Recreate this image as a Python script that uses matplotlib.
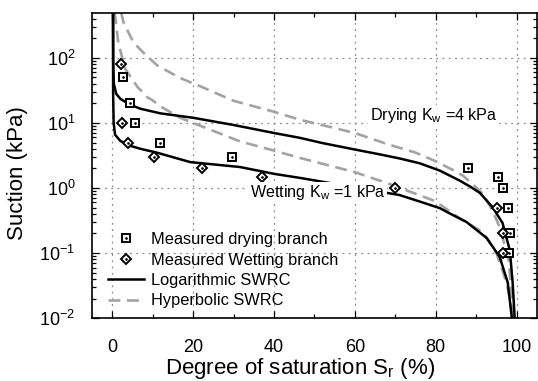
import matplotlib
matplotlib.use("Agg")
import matplotlib.pyplot as plt
from matplotlib.ticker import MultipleLocator, LogLocator, NullFormatter

plt.rcParams['font.family'] = ['Liberation Sans', 'DejaVu Sans']
plt.rcParams['mathtext.fontset'] = 'custom'
plt.rcParams['mathtext.rm'] = 'Liberation Sans'
plt.rcParams['mathtext.it'] = 'Liberation Sans:italic'
plt.rcParams['mathtext.default'] = 'regular'

# measured points
dry_S = [2.7, 4.3, 5.7, 11.7, 29.5, 88, 95.3, 96.5, 97.8, 98.4, 98.0]
dry_psi = [50, 20, 10, 5, 3, 2, 1.5, 1.0, 0.5, 0.2, 0.1]
wet_S = [2.2, 2.5, 3.9, 10.4, 22.2, 37, 70, 95.2, 96.5, 96.7]
wet_psi = [80, 10, 5, 3, 2, 1.5, 1.0, 0.5, 0.2, 0.1]

# logarithmic SWRC
logdry_S = [0.2, 0.25, 0.4, 1.0, 2.0, 4.4, 7, 12, 20, 30, 40, 46.4, 52, 60, 66, 71,
            76, 81, 85.9, 88.5, 90.9, 94, 96.5, 98.3, 99, 99.5]
logdry_psi = [500, 80, 40, 28, 23.5, 19, 16.5, 14, 12, 9.3, 7.0, 5.9, 4.9, 3.9, 3.3, 2.85,
              2.4, 1.85, 1.3, 1.05, 0.84, 0.51, 0.29, 0.11, 0.035, 0.01]
logwet_S = [0.2, 0.22, 0.35, 0.7, 2.0, 4.2, 7, 11, 19.3, 31.6, 40, 46.4, 59, 71, 76,
            81, 84, 87.6, 92.6, 95.8, 97.8, 98.8]
logwet_psi = [500, 30, 10, 6.6, 5.3, 4.5, 4.0, 3.5, 2.5, 2.1, 1.65, 1.43, 1.05, 0.78, 0.62,
              0.49, 0.39, 0.30, 0.17, 0.087, 0.035, 0.01]

# hyperbolic SWRC
hypdry_S = [2.2, 2.8, 5.2, 7.7, 11.2, 16.8, 22.5, 29.9, 39.7, 46.4, 60, 68.6, 75, 79.8,
            84.2, 86.7, 89.1, 91.6, 94, 95.8, 98, 99.2]
hypdry_psi = [500, 350, 175, 120, 76, 49, 35, 22, 15, 11.2, 7.0, 4.6, 3.5, 2.6,
              1.9, 1.55, 1.15, 0.82, 0.45, 0.25, 0.08, 0.01]
hypwet_S = [0.6, 0.8, 1.5, 3.2, 6.2, 8.6, 10.1, 11.9, 16.8, 20, 31.6, 39.7, 46.4, 60,
            68.6, 79.8, 86, 91.6, 95, 97.5, 99]
hypwet_psi = [500, 400, 170, 68, 36, 25, 22, 18, 12, 10, 5.2, 3.8, 2.9, 1.75,
              1.15, 0.63, 0.34, 0.21, 0.1, 0.035, 0.012]

fig = plt.figure(figsize=(5.38, 3.81), dpi=100)
ax = fig.add_axes([0.171, 0.165, 0.827, 0.801])

dash_col = '#a3a3a3'
dash_pat = (4.5, 2.5)
ax.plot(hypdry_S, hypdry_psi, color=dash_col, lw=1.9, dashes=dash_pat, zorder=2)
ax.plot(hypwet_S, hypwet_psi, color=dash_col, lw=1.9, dashes=dash_pat, zorder=2)
ax.plot(logdry_S, logdry_psi, color='black', lw=1.8, zorder=3)
ax.plot(logwet_S, logwet_psi, color='black', lw=1.8, zorder=3)

ax.plot(dry_S, dry_psi, ls='none', marker='s', ms=5.3, mew=1.4, mec='black', mfc='white', zorder=4)
ax.plot(dry_S, dry_psi, ls='none', marker='.', ms=1.8, color='black', zorder=5)
ax.plot(wet_S, wet_psi, ls='none', marker='D', ms=4.8, mew=1.4, mec='black', mfc='white', zorder=4)
ax.plot(wet_S, wet_psi, ls='none', marker='.', ms=1.8, color='black', zorder=5)

ax.set_yscale('log')
ax.set_xlim(-5, 105)
ax.set_ylim(1e-2, 490)
ax.xaxis.set_major_locator(MultipleLocator(20))
ax.xaxis.set_minor_locator(MultipleLocator(10))
ax.yaxis.set_major_locator(LogLocator(base=10, numticks=10))
ax.yaxis.set_minor_locator(LogLocator(base=10, subs=range(2, 10), numticks=20))
ax.yaxis.set_minor_formatter(NullFormatter())
ax.tick_params(which='both', direction='in', top=True, right=True, width=0.9)
ax.tick_params(which='major', length=5, labelsize=13)
ax.tick_params(which='minor', length=3)
ax.tick_params(axis='x', pad=15)
ax.tick_params(axis='y', pad=12)
for sp in ax.spines.values():
    sp.set_linewidth(1.2)
ax.grid(True, which='major', color='#8c8c8c', ls=(0, (1.5, 3.5)), lw=0.9)

ax.set_xlabel(r'Degree of saturation S$_{\rm r}$ (%)', fontsize=16)
ax.xaxis.set_label_coords(0.467, -0.124)
ax.set_ylabel('Suction (kPa)', fontsize=16)
ax.yaxis.set_label_coords(-0.144, 0.475)

ax.text(63.7, 11.1, r'Drying K$_{\rm w}$ =4 kPa', fontsize=11.6, va='baseline', zorder=6,
        bbox=dict(facecolor='white', edgecolor='none', pad=1))
ax.text(34, 0.72, r'Wetting K$_{\rm w}$ =1 kPa', fontsize=11.6, va='baseline', zorder=6,
        bbox=dict(facecolor='white', edgecolor='none', pad=1))

# legend handles
h_sq = ax.plot([], [], ls='none', marker='s', ms=5.3, mew=1.4, mec='black', mfc='white')[0]
h_sq_dot = ax.plot([], [], ls='none', marker='.', ms=1.8, color='black')[0]
h_di = ax.plot([], [], ls='none', marker='D', ms=4.8, mew=1.4, mec='black', mfc='white')[0]
h_di_dot = ax.plot([], [], ls='none', marker='.', ms=1.8, color='black')[0]
h_log = ax.plot([], [], color='black', lw=1.8)[0]
h_hyp = ax.plot([], [], color=dash_col, lw=1.9, dashes=dash_pat)[0]
ax.legend([(h_sq, h_sq_dot), (h_di, h_di_dot), h_log, h_hyp],
          ['Measured drying branch', 'Measured Wetting branch', 'Logarithmic SWRC', 'Hyperbolic SWRC'],
          loc='lower left', bbox_to_anchor=(0.036, 0.032), frameon=False, fontsize=11.8,
          handlelength=2.2, handletextpad=0.45, labelspacing=0.33, borderaxespad=0, borderpad=0)

fig.savefig('out.png', dpi=100)
